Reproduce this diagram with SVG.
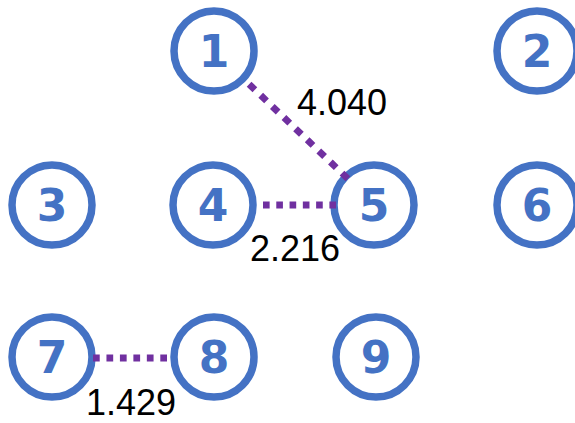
<svg xmlns="http://www.w3.org/2000/svg" width="575" height="423" viewBox="0 0 575 423">
<style>
.n circle{fill:#fff;stroke:#4472C4;stroke-width:7.5}
.n text{font-family:"DejaVu Sans","Liberation Sans",Arial,sans-serif;font-weight:bold;font-size:44px;fill:#4472C4;text-anchor:middle}
.e line{stroke:#7030A0;stroke-width:6.8}
.lbl{font-family:"Liberation Sans",Arial,sans-serif;font-size:36px;fill:#000}
</style>
<rect width="575" height="423" fill="#fff"/>
<g id="nodes">
<g id="n1" class="n"><circle cx="214" cy="51" r="40"/><text x="214" y="67">1</text></g>
<g id="n2" class="n"><circle cx="537" cy="51" r="40"/><text x="537" y="67">2</text></g>
<g id="n3" class="n"><circle cx="52" cy="205" r="40"/><text x="52" y="221">3</text></g>
<g id="n4" class="n"><circle cx="213" cy="205" r="40"/><text x="213" y="221">4</text></g>
<g id="n5" class="n"><circle cx="374" cy="205" r="40"/><text x="374" y="221">5</text></g>
<g id="n6" class="n"><circle cx="537" cy="205" r="40"/><text x="537" y="221">6</text></g>
<g id="n7" class="n"><circle cx="52" cy="357" r="40"/><text x="52" y="373">7</text></g>
<g id="n8" class="n"><circle cx="214" cy="357" r="40"/><text x="214" y="373">8</text></g>
<g id="n9" class="n"><circle cx="376" cy="357" r="40"/><text x="376" y="373">9</text></g>
</g>
<g id="connectors" class="e">
<line x1="249.1" y1="84.2" x2="347.9" y2="178.8" stroke-dasharray="8.04 8.04"/>
<line x1="263" y1="205" x2="336" y2="205" stroke-dasharray="6.64 6.64"/>
<line x1="93" y1="358" x2="167" y2="358" stroke-dasharray="6.73 6.73"/>
</g>
<g id="labels">
<text class="lbl" x="86" y="415">1.429</text>
<text class="lbl" x="297" y="115">4.040</text>
<text class="lbl" x="250" y="261">2.216</text>
</g>
</svg>
